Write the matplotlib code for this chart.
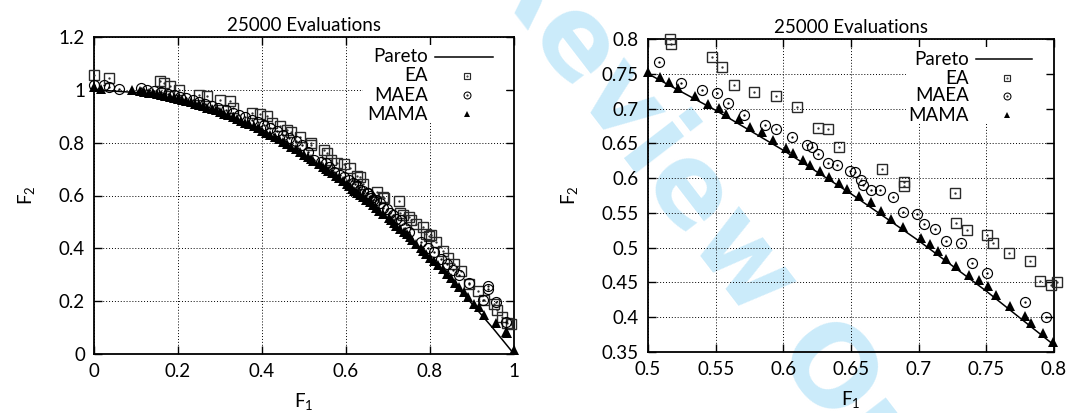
import matplotlib
matplotlib.use("Agg")
import matplotlib.pyplot as plt
from matplotlib.patches import Rectangle
from matplotlib.lines import Line2D

plt.rcParams['font.family'] = ['Lato', 'DejaVu Sans']
plt.rcParams['font.size'] = 13.5

# true front
pareto_f1 = [0.0, 0.1, 0.2, 0.3, 0.4, 0.5, 0.55, 0.6, 0.65, 0.7, 0.75, 0.8, 0.85, 0.9, 0.95, 1.0]
pareto_f2 = [1.0, 0.99, 0.96, 0.91, 0.84, 0.75, 0.6975, 0.64, 0.5775, 0.51, 0.4375, 0.36, 0.2775, 0.19, 0.0975, 0.0]

ea_f1 = [0.0, 0.036, 0.157, 0.166, 0.182, 0.202, 0.251, 0.269, 0.300, 0.323, 0.332, 0.377, 0.395,
         0.411, 0.423, 0.443, 0.459, 0.470, 0.490,
         0.5165, 0.517, 0.5476, 0.5547, 0.5633, 0.5786, 0.5947, 0.6102, 0.6257, 0.6329, 0.6412,
         0.6728, 0.6888, 0.6893, 0.7265, 0.7275, 0.7354, 0.7507, 0.7551, 0.7665, 0.7825, 0.7894, 0.7978,
         0.802, 0.814, 0.830, 0.842, 0.858, 0.874, 0.893, 0.915, 0.929, 0.953, 0.960, 0.972, 0.984, 0.992]
ea_f2 = [1.055, 1.043, 1.033, 1.024, 1.014, 1.001, 0.982, 0.976, 0.961, 0.958, 0.933, 0.913, 0.907,
         0.902, 0.873, 0.863, 0.847, 0.839, 0.822,
         0.800, 0.793, 0.7736, 0.7597, 0.7333, 0.7242, 0.7185, 0.7027, 0.6720, 0.6706, 0.6442,
         0.6126, 0.5949, 0.5891, 0.5781, 0.5354, 0.5259, 0.5182, 0.5062, 0.4923, 0.4808, 0.4525, 0.4458,
         0.450, 0.425, 0.391, 0.362, 0.340, 0.315, 0.265, 0.240, 0.204, 0.189, 0.166, 0.141, 0.119, 0.113]

maea_f1 = [0.0, 0.024, 0.036, 0.059, 0.111, 0.126, 0.142, 0.160, 0.175, 0.190, 0.205, 0.220, 0.235,
           0.250, 0.265, 0.280, 0.296, 0.315, 0.330, 0.345, 0.360, 0.375, 0.390, 0.405, 0.420, 0.435,
           0.450, 0.465, 0.480, 0.495,
           0.5084, 0.5242, 0.5399, 0.5513, 0.5594, 0.5707, 0.5868, 0.5944, 0.6062, 0.6178, 0.6215,
           0.6255, 0.6333, 0.6395, 0.6496, 0.6533, 0.6573, 0.6587, 0.6649, 0.6711, 0.6807, 0.6881,
           0.6984, 0.7043, 0.7117, 0.7199, 0.7310, 0.7396, 0.7507, 0.7783, 0.7941,
           0.810, 0.825, 0.840, 0.855, 0.870, 0.893, 0.925, 0.937, 0.937, 0.957, 0.980]
maea_f2 = [1.018, 1.018, 1.009, 1.005, 1.008, 1.001, 0.996, 0.990, 0.985, 0.980, 0.974, 0.968, 0.962,
           0.955, 0.948, 0.940, 0.933, 0.925, 0.914, 0.905, 0.897, 0.887, 0.877, 0.866, 0.855, 0.843,
           0.830, 0.818, 0.805, 0.792,
           0.7664, 0.7362, 0.7261, 0.7228, 0.7079, 0.6907, 0.6768, 0.6710, 0.6595, 0.6476, 0.6452,
           0.6346, 0.6212, 0.6183, 0.6102, 0.6092, 0.5977, 0.5905, 0.5824, 0.5824, 0.5723, 0.5512,
           0.5479, 0.5340, 0.5273, 0.5100, 0.5067, 0.4779, 0.4636, 0.4224, 0.3998,
           0.385, 0.360, 0.340, 0.318, 0.299, 0.267, 0.204, 0.257, 0.245, 0.198, 0.122]

mama_f1 = [0.0, 0.016, 0.091, 0.11, 0.12, 0.13, 0.14, 0.15, 0.16, 0.17, 0.18, 0.19, 0.20, 0.21,
           0.22, 0.23, 0.24, 0.25, 0.26, 0.27, 0.28, 0.29, 0.30, 0.31, 0.32, 0.33, 0.34, 0.35, 0.36,
           0.37, 0.38, 0.39, 0.40, 0.41, 0.42, 0.43, 0.44, 0.45, 0.46, 0.47, 0.48, 0.49,
           0.5, 0.5089, 0.5158, 0.5219, 0.5348, 0.5446, 0.5523, 0.5577, 0.5673, 0.5752, 0.5843,
           0.5922, 0.6020, 0.6075, 0.6144, 0.6195, 0.6272, 0.6338, 0.6412, 0.6474, 0.6560, 0.6651,
           0.6720, 0.6792, 0.6886, 0.7019, 0.7083, 0.7145, 0.7199, 0.7278, 0.7371, 0.7443, 0.7514,
           0.7571, 0.7674, 0.7788, 0.7827, 0.7916, 0.7995,
           0.81, 0.82, 0.83, 0.84, 0.85, 0.86, 0.87, 0.88, 0.89, 0.905, 0.917, 0.929, 0.957, 0.980,
           0.984, 1.0]
mama_f2 = [1.009, 1.005, 0.999, 0.994, 0.992, 0.989, 0.987, 0.984, 0.981, 0.977, 0.974, 0.970, 0.966,
           0.962, 0.958, 0.953, 0.948, 0.943, 0.938, 0.933, 0.928, 0.922, 0.916, 0.910, 0.904, 0.897,
           0.890, 0.883, 0.876, 0.869, 0.862, 0.854, 0.846, 0.838, 0.830, 0.821, 0.812, 0.803, 0.794,
           0.785, 0.776, 0.766,
           0.752, 0.7448, 0.7386, 0.7300, 0.7175, 0.7065, 0.7007, 0.6926, 0.6849, 0.6739, 0.6667,
           0.6552, 0.6432, 0.6361, 0.6255, 0.6183, 0.6097, 0.6016, 0.5929, 0.5843, 0.5747, 0.5656,
           0.5532, 0.5407, 0.5292, 0.5143, 0.5057, 0.4947, 0.4837, 0.4731, 0.4612, 0.4530, 0.4444,
           0.4324, 0.4161, 0.4022, 0.3917, 0.3768, 0.3639,
           0.352, 0.337, 0.320, 0.303, 0.287, 0.270, 0.252, 0.234, 0.215, 0.190, 0.179, 0.148, 0.119,
           0.084, 0.078, 0.015]

title = "25000 Evaluations"
labels = ["Pareto", "EA", "MAEA", "MAMA"]

FS = 13.5
TICK_PX = 8


def in_range(xs, ys, xlim, ylim, tol=0.003):
    px, py = [], []
    for x, y in zip(xs, ys):
        if xlim[0] - tol <= x <= xlim[1] + tol and ylim[0] - tol <= y <= ylim[1] + tol:
            px.append(x)
            py.append(y)
    return px, py


def draw_panel(ax, xlim, ylim, xticks, yticks, key_pos):
    ax.set_facecolor('none')
    ax.plot(pareto_f1, pareto_f2, color='black', lw=1.1, zorder=3, solid_capstyle='butt')

    x, y = in_range(ea_f1, ea_f2, xlim, ylim)
    ax.plot(x, y, ls='none', marker='s', ms=7.5, mfc='none', mec='#2a2a2a', mew=1.0, clip_on=False, zorder=4)
    ax.plot(x, y, ls='none', marker='.', ms=1.3, color='#2a2a2a', clip_on=False, zorder=4)

    x, y = in_range(maea_f1, maea_f2, xlim, ylim)
    ax.plot(x, y, ls='none', marker='o', ms=7.2, mfc='none', mec='black', mew=0.85, clip_on=False, zorder=4)
    ax.plot(x, y, ls='none', marker='.', ms=1.3, color='black', clip_on=False, zorder=4)

    x, y = in_range(mama_f1, mama_f2, xlim, ylim)
    ax.plot(x, y, ls='none', marker='^', ms=7.0, color='black', mew=0, clip_on=False, zorder=5)

    ax.set_xlim(*xlim)
    ax.set_ylim(*ylim)
    ax.set_xticks(xticks)
    ax.set_yticks(yticks)
    ax.set_xticklabels(['%g' % v for v in xticks])
    ax.set_yticklabels(['%g' % v for v in yticks])
    ax.tick_params(direction='in', length=TICK_PX * 0.72, width=1.0, top=True, right=True,
                   pad=6.5, labelsize=FS)
    ax.set_axisbelow(True)
    ax.grid(True, ls=(0, (1, 2)), color='black', lw=0.7)
    for s in ax.spines.values():
        s.set_linewidth(1.3)
    ax.set_title(title, fontsize=FS, pad=4)
    ax.set_xlabel(r'$\mathregular{F_1}$', fontsize=FS, labelpad=8)
    ax.set_ylabel(r'$\mathregular{F_2}$', fontsize=FS, labelpad=16)

    # key: opaque box, right-aligned labels with samples to their right
    text_x, line_x0, line_x1, mark_x, rows, box_x0, box_y0 = key_pos
    bbox = ax.get_window_extent()
    dx = TICK_PX / bbox.width
    dy = TICK_PX / bbox.height
    ax.add_patch(Rectangle((box_x0, box_y0), 1 - dx - box_x0, 1 - dy - box_y0,
                           transform=ax.transAxes, facecolor='white', edgecolor='none', zorder=1))
    for lab, ry in zip(labels, rows):
        ax.text(text_x, ry, lab, transform=ax.transAxes, ha='right', va='center', fontsize=FS, zorder=6)
    ax.add_line(Line2D([line_x0, line_x1], [rows[0], rows[0]], transform=ax.transAxes,
                       color='black', lw=1.1, zorder=6))
    ax.add_line(Line2D([mark_x], [rows[1]], transform=ax.transAxes, ls='none', marker='s', ms=5.0,
                       mfc='none', mec='#2a2a2a', mew=0.85, zorder=6))
    ax.add_line(Line2D([mark_x], [rows[1]], transform=ax.transAxes, ls='none', marker='.', ms=1,
                       color='#2a2a2a', zorder=6))
    ax.add_line(Line2D([mark_x], [rows[2]], transform=ax.transAxes, ls='none', marker='o', ms=5.0,
                       mfc='none', mec='black', mew=0.75, zorder=6))
    ax.add_line(Line2D([mark_x], [rows[2]], transform=ax.transAxes, ls='none', marker='.', ms=1,
                       color='black', zorder=6))
    ax.add_line(Line2D([mark_x], [rows[3]], transform=ax.transAxes, ls='none', marker='^', ms=5.0,
                       color='black', mew=0, zorder=6))


fig = plt.figure(figsize=(10.88, 4.13), dpi=100)
fig.patch.set_facecolor('white')

fig.text(0.6756, 0.3874, "Review Only", rotation=-52.5, rotation_mode='anchor', ha='center', va='center',
         fontsize=80, fontweight='bold', color='#cbebfa', family='DejaVu Sans', zorder=-5)

ax1 = fig.add_axes([94 / 1088, 59 / 413, 420 / 1088, 317 / 413])
ax2 = fig.add_axes([648 / 1088, 61 / 413, 406 / 1088, 313 / 413])

draw_panel(ax1, (0, 1), (0, 1.2), [0, 0.2, 0.4, 0.6, 0.8, 1], [0, 0.2, 0.4, 0.6, 0.8, 1, 1.2],
           (0.795, 0.812, 0.95, 0.888, [0.937, 0.877, 0.817, 0.757], 0.64, 0.73))
draw_panel(ax2, (0.5, 0.8), (0.35, 0.8), [0.5, 0.55, 0.6, 0.65, 0.7, 0.75, 0.8],
           [0.35, 0.4, 0.45, 0.5, 0.55, 0.6, 0.65, 0.7, 0.75, 0.8],
           (0.791, 0.808, 0.946, 0.884, [0.936, 0.875, 0.818, 0.757], 0.635, 0.73))

fig.savefig('out.png', dpi=100)
